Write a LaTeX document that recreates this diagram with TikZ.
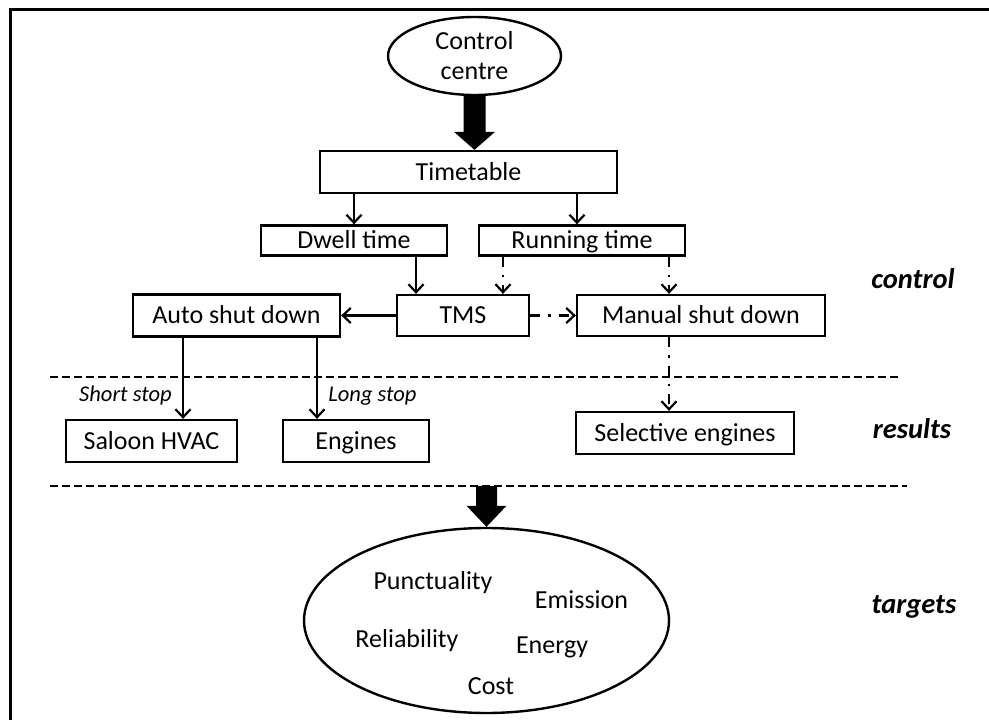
\documentclass[tikz,border=0pt]{standalone}
\usepackage{fontspec}
\setmainfont{Carlito}
\usetikzlibrary{shapes.geometric,arrows.meta,calc}
\begin{document}
\begin{tikzpicture}[x=1pt,y=-1pt,
  box/.style={draw, line width=2.3pt, rectangle, inner sep=0pt, minimum height=42pt, text height=16.7pt, text depth=0pt, font=\fontsize{26}{30}\selectfont},
  ell/.style={draw, line width=2.4pt, ellipse, inner sep=0pt, align=center, font=\fontsize{26}{30}\selectfont},
  txt/.style={inner sep=0pt, text height=16.7pt, text depth=0pt, font=\fontsize{26}{30}\selectfont},
  side/.style={inner sep=0pt, text height=18.4pt, text depth=0pt, font=\fontsize{28.5}{32}\selectfont\bfseries\itshape},
  stoplbl/.style={inner sep=0pt, text height=14.5pt, text depth=0pt, font=\fontsize{22.5}{26}\selectfont\itshape},
  arr/.style={line width=2.2pt, -{Straight Barb[length=8pt,width=15pt]}},
  dda/.style={arr, dash pattern=on 10pt off 8pt on 2.5pt off 8pt},
  sep/.style={line width=2.2pt, dash pattern=on 8pt off 4pt},
  blk/.style={fill=black}
]
\useasboundingbox (0,0) rectangle (989,720);
% frame
\draw[line width=3.5pt] (10.5,722) -- (10.5,9.5) -- (992,9.5);

% nodes
\node[ell, minimum width=173pt, minimum height=78pt] (cc) at (474.5,56) {Control\\centre};
\node[box, minimum width=297pt] (tt) at (468.5,172) {Timetable};
\node[box, minimum width=186pt, minimum height=30pt] (dw) at (354,240.5) {Dwell time};
\node[box, minimum width=206pt, minimum height=30pt] (rt) at (582,240.5) {Running time};
\node[box, minimum width=132pt, minimum height=41pt] (tms) at (463,315.5) {TMS};
\node[box, minimum width=207pt] (asd) at (236.5,315.5) {Auto shut down};
\node[box, minimum width=248pt, minimum height=41pt] (msd) at (701,315.5) {Manual shut down};
\node[box, minimum width=171pt] (sh) at (151.5,441) {Saloon HVAC};
\node[box, minimum width=146pt] (en) at (356,441) {Engines};
\node[box, minimum width=218pt] (se) at (685,433) {Selective engines};
\node[ell, minimum width=365pt, minimum height=185pt] (tg) at (486.5,620.5) {};

% ellipse contents
\node[txt] (pu) at (433,581) {Punctuality};
\node[txt] (em) at (581.5,600) {Emission};
\node[txt] (re) at (407,639) {Reliability};
\node[txt] (enr) at (552,645.5) {Energy};
\node[txt] (co) at (491,686) {Cost};

% side labels
\node[side] (lc) at (913,279) {control};
\node[side] (lr) at (912,429.5) {results};
\node[side] (lt) at (914,604.5) {targets};

% stop labels
\node[stoplbl] (ss) at (125.5,394.5) {Short stop};
\node[stoplbl] (ls) at (372.5,394.5) {Long stop};

% separators
\coordinate (d1l) at (50,377);
\coordinate (d1r) at (899,377);
\coordinate (d2l) at (50,486);
\coordinate (d2r) at (907,486);
\draw[sep] (d1l) -- (d1r);
\draw[sep] (d2l) -- (d2r);

% block arrow 1
\coordinate (p1) at (cc.south);
\coordinate (q1) at (p1 |- tt.north);
\fill[blk] ($(p1)+(-11,0)$) -- ($(p1)+(11,0)$) -- ($(q1)+(11,-18)$) -- ($(q1)+(20.5,-18)$) -- (q1) -- ($(q1)+(-20.5,-18)$) -- ($(q1)+(-11,-18)$) -- cycle;

% block arrow 2
\coordinate (q2) at (tg.north);
\coordinate (p2) at (q2 |- d2l);
\fill[blk] ($(p2)+(-10.5,0)$) -- ($(p2)+(10.5,0)$) -- ($(q2)+(10.5,-21)$) -- ($(q2)+(20,-21)$) -- (q2) -- ($(q2)+(-20,-21)$) -- ($(q2)+(-10.5,-21)$) -- cycle;

% connectors
\draw[arr] (tt.south -| dw.north) -- (dw.north);
\coordinate (a1) at ($(rt.north)+(-5,0)$);
\draw[arr] (tt.south -| a1) -- (a1);
\coordinate (a2) at ($(tms.north)+(-47,0)$);
\draw[arr] (dw.south -| a2) -- (a2);
\coordinate (a3) at ($(tms.north)+(40,0)$);
\draw[dda] (rt.south -| a3) -- (a3);
\coordinate (a4) at ($(msd.north)+(-32,0)$);
\draw[dda] (rt.south -| a4) -- (a4);
\draw[arr] (tms.west) -- (asd.east);
\draw[dda] (tms.east) -- (msd.west);
\coordinate (a5) at ($(asd.south)+(-53.5,0)$);
\draw[arr] (a5) -- (sh.north -| a5);
\coordinate (a6) at ($(asd.south)+(80.5,0)$);
\draw[arr] (a6) -- (en.north -| a6);
\coordinate (a7) at ($(se.north)+(-16,0)$);
\draw[dda] (msd.south -| a7) -- (a7);
\end{tikzpicture}
\end{document}
